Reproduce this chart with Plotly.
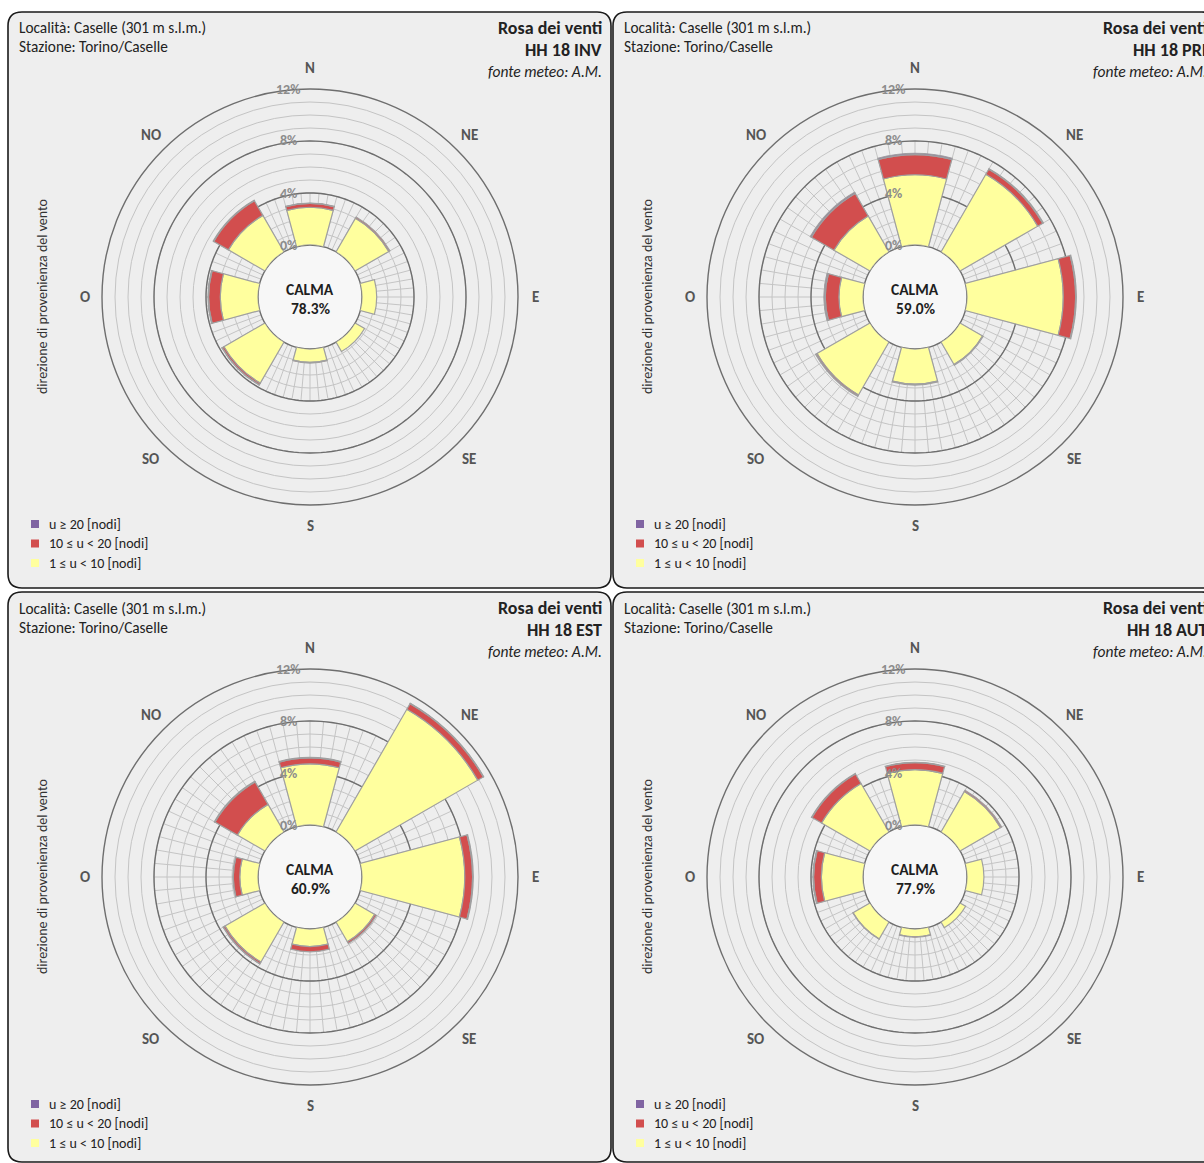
import numpy as np
import plotly.graph_objects as go

W, H = 1204, 1163

# --- data -----------------------------------------------------------------
directions = ["N", "NE", "E", "SE", "S", "SO", "O", "NO"]
dir_angles = [0, 45, 90, 135, 180, 225, 270, 315]
seasons = ["INV", "PRI", "EST", "AUT"]
calma = [78.3, 59.0, 60.9, 77.9]

# frequency (%) per direction, 1 <= u < 10 knots
low_inv = [2.9, 3.0, 1.13, 0.85, 1.03, 3.65, 2.9, 3.25]
low_pri = [5.4, 6.9, 7.4, 2.0, 2.7, 4.7, 1.85, 3.2]
low_est = [4.7, 10.9, 7.9, 1.75, 1.35, 3.55, 1.4, 2.45]
low_aut = [4.25, 3.6, 1.3, 0.5, 0.6, 1.5, 3.2, 4.3]

# 10 <= u < 20 knots
mid_inv = [0.3, 0.1, 0.0, 0.0, 0.05, 0.15, 0.9, 1.3]
mid_pri = [1.55, 0.45, 0.95, 0.05, 0.07, 0.1, 1.05, 2.0]
mid_est = [0.45, 0.5, 0.6, 0.15, 0.4, 0.15, 0.5, 2.0]
mid_aut = [0.55, 0.1, 0.0, 0.0, 0.03, 0.02, 0.6, 0.85]

# u >= 20 knots
high_inv = [0.02, 0.0, 0.0, 0.0, 0.0, 0.02, 0.05, 0.05]
high_pri = [0.1, 0.05, 0.05, 0.0, 0.0, 0.02, 0.1, 0.1]
high_est = [0.05, 0.03, 0.05, 0.0, 0.0, 0.02, 0.02, 0.05]
high_aut = [0.02, 0.0, 0.0, 0.0, 0.0, 0.0, 0.05, 0.05]

low_all = [low_inv, low_pri, low_est, low_aut]
mid_all = [mid_inv, mid_pri, mid_est, mid_aut]
high_all = [high_inv, high_pri, high_est, high_aut]

class_labels = ["1 ≤ u < 10 [nodi]", "10 ≤ u < 20 [nodi]", "u ≥ 20 [nodi]"]
class_colors = ["#FFFF9E", "#D24E4E", "#8064A2"]

radial_ticks = [0, 4, 8, 12]
spoke_extent = [4, 8, 8, 4]

# --- layout geometry ------------------------------------------------------
panel_origin = [(8, 12), (613, 12), (8, 592), (613, 592)]
panel_size = [(603, 576), (603, 576), (603, 570), (603, 570)]
R = 208          # pixel radius of the 12 % ring
HOLE = 0.25      # calm circle as a fraction of the radius
RMAX = 12

FONT = "Carlito, Lato, sans-serif"

fig = go.Figure()
shapes = []
annotations = []


def rounded_rect(x0, y0, x1, y1, r):
    return (f"M{x0+r},{y0} L{x1-r},{y0} Q{x1},{y0} {x1},{y0+r} "
            f"L{x1},{y1-r} Q{x1},{y1} {x1-r},{y1} L{x0+r},{y1} "
            f"Q{x0},{y1} {x0},{y1-r} L{x0},{y0+r} Q{x0},{y0} {x0+r},{y0} Z")


def text(x, y, s, size=12, color="#222", bold=False, italic=False,
         xanchor="center", angle=0):
    """Place a label at pixel position (x, y) measured from the top-left."""
    if bold:
        s = f"<b>{s}</b>"
    if italic:
        s = f"<i>{s}</i>"
    annotations.append(dict(
        x=x / W, y=1 - y / H, xref="paper", yref="paper", text=s,
        showarrow=False, xanchor=xanchor, yanchor="middle", textangle=angle,
        font=dict(family=FONT, size=size, color=color)))


ring_theta = np.arange(0, 362, 2)
polar_layouts = {}

for i, season in enumerate(seasons):
    px, py = panel_origin[i]
    pw, ph = panel_size[i]
    cx, cy = px + 302, py + 285
    grid_id = "polar" if i == 0 else f"polar{i+1}"     # grid / rings
    bar_id = f"polar{i+5}"                              # sectors on top
    domain = dict(x=[(cx - R) / W, (cx + R) / W],
                  y=[1 - (cy + R) / H, 1 - (cy - R) / H])

    # panel frame
    shapes.append(dict(type="path", xref="x", yref="y", layer="below",
                       path=rounded_rect(px, py, px + pw, py + ph, 14),
                       fillcolor="#EEEEEE", line=dict(color="#1a1a1a", width=1.6)))
    # calm circle
    rh = R * HOLE
    shapes.append(dict(type="circle", xref="x", yref="y", layer="below",
                       x0=cx - rh, x1=cx + rh, y0=cy - rh, y1=cy + rh,
                       fillcolor="#F7F7F7", line=dict(width=0)))

    # spokes between the sectors
    sr, st = [], []
    for a in range(0, 360, 5):
        sr += [0, spoke_extent[i], None]
        st += [a, a, None]
    fig.add_trace(go.Scatterpolar(r=sr, theta=st, mode="lines", subplot=grid_id,
                                  line=dict(color="#C4C4C4", width=1),
                                  hoverinfo="skip", showlegend=False))
    # heavier rings at 4 % and 8 %
    for rv in radial_ticks[1:-1]:
        fig.add_trace(go.Scatterpolar(r=[rv] * len(ring_theta), theta=ring_theta,
                                      mode="lines", subplot=grid_id,
                                      line=dict(color="#6E6E6E", width=1.4),
                                      hoverinfo="skip", showlegend=False))

    # stacked sectors
    for vals, name, col in zip([low_all[i], mid_all[i], high_all[i]],
                               class_labels, class_colors):
        fig.add_trace(go.Barpolar(
            r=vals, theta=dir_angles, width=[30] * 8, subplot=bar_id, name=name,
            marker=dict(color=col, line=dict(color="#A0A0A0", width=1.2)),
            showlegend=False))

    polar_layouts[grid_id] = dict(
        domain=domain, bgcolor="rgba(0,0,0,0)", hole=HOLE,
        radialaxis=dict(range=[0, RMAX], tickvals=list(range(0, RMAX)),
                        showticklabels=False, ticks="", showline=False,
                        gridcolor="#C4C4C4", gridwidth=1),
        angularaxis=dict(rotation=90, direction="clockwise", showgrid=False,
                         showticklabels=False, ticks="", showline=True,
                         linecolor="#6E6E6E", linewidth=1.4),
    )
    polar_layouts[bar_id] = dict(
        domain=domain, bgcolor="rgba(0,0,0,0)", hole=HOLE, barmode="stack",
        radialaxis=dict(range=[0, RMAX], showgrid=False, showticklabels=False,
                        ticks="", showline=False),
        angularaxis=dict(rotation=90, direction="clockwise", showgrid=False,
                         showticklabels=False, ticks="", showline=False),
    )

    # compass labels
    for d, a in zip(directions, dir_angles):
        t = np.radians(a)
        text(cx + 225 * np.sin(t), cy - 229 * np.cos(t), d, size=15,
             color="#555555", bold=True)
    # radial labels
    for rv in radial_ticks:
        rp = rh + (R - rh) * rv / RMAX
        text(cx - 22, cy - rp, f"{rv}%", size=14, color="#8C8C8C", bold=True)

    # calm value
    text(cx, cy - 8, "CALMA", size=15.5, color="#1e1e1e", bold=True)
    text(cx, cy + 11, f"{calma[i]:.1f}%", size=15.5, color="#1e1e1e", bold=True)

    # header texts
    text(px + 9, py + 16, "Località: Caselle (301 m s.l.m.)", size=15.3,
         xanchor="left")
    text(px + 9, py + 35, "Stazione: Torino/Caselle", size=15.3, xanchor="left")
    text(px + 596, py + 16, "Rosa dei venti", size=18, bold=True, xanchor="right")
    text(px + 596, py + 38, f"HH 18 {season}", size=18, bold=True, xanchor="right")
    text(px + 596, py + 59, "fonte meteo: A.M.", size=15.5, italic=True,
         xanchor="right")
    text(px + 34, py + 285, "direzione di provenienza del vento", size=14,
         color="#333", angle=-90)

    # legend
    for k, (lab, col) in enumerate(zip(class_labels[::-1], class_colors[::-1])):
        ly = py + 512 + 19.5 * k
        shapes.append(dict(type="rect", xref="x", yref="y", layer="above",
                           x0=px + 23, x1=px + 31, y0=ly - 4, y1=ly + 4,
                           fillcolor=col, line=dict(width=0)))
        text(px + 39, ly, lab, size=14, xanchor="left")

fig.update_layout(**polar_layouts)
fig.update_layout(
    width=W, height=H,
    margin=dict(l=0, r=0, t=0, b=0),
    paper_bgcolor="white",
    plot_bgcolor="rgba(0,0,0,0)",
    xaxis=dict(range=[0, W], domain=[0, 1], visible=False, fixedrange=True),
    yaxis=dict(range=[H, 0], domain=[0, 1], visible=False, fixedrange=True),
    shapes=shapes,
    annotations=annotations,
    showlegend=False,
)

fig.write_html("out.html")
